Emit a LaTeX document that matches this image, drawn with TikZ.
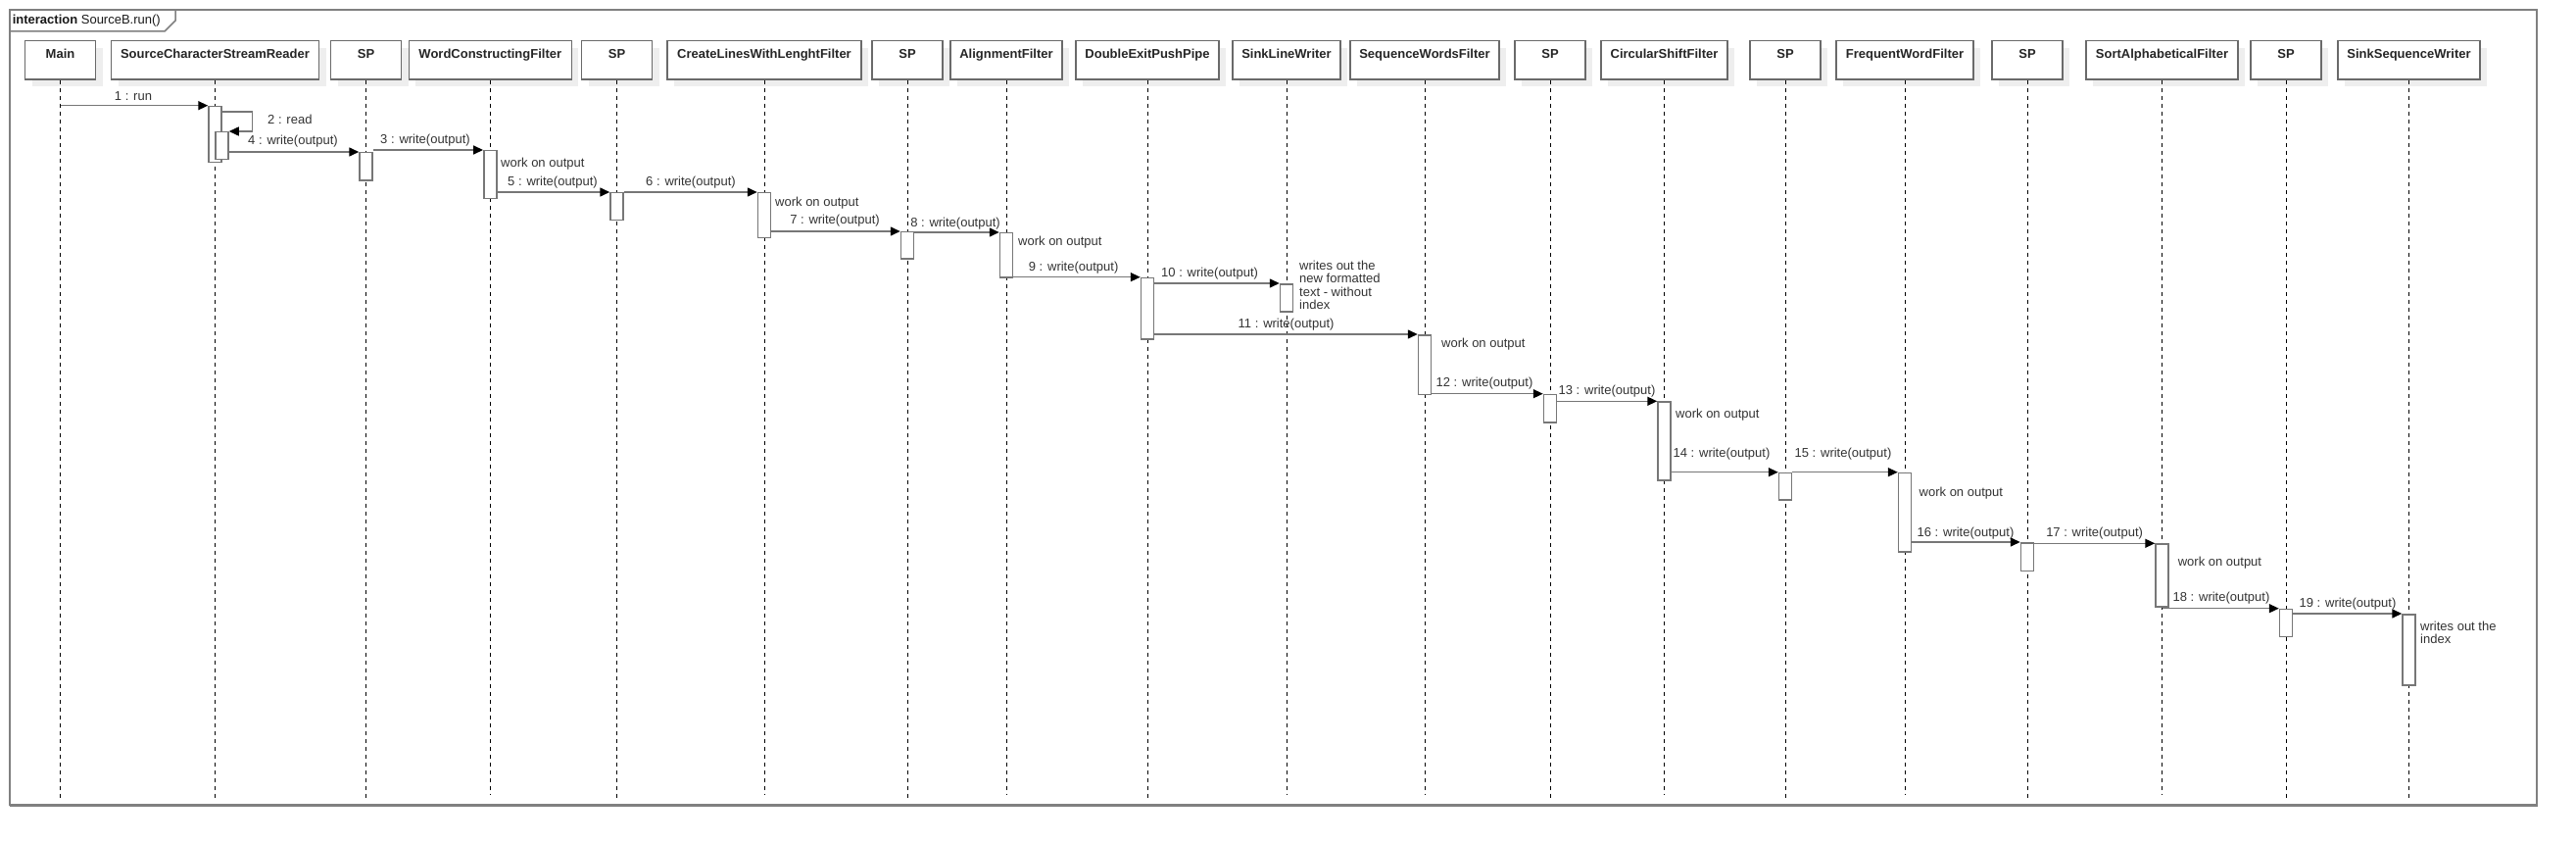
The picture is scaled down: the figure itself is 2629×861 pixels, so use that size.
\documentclass[tikz,border=0pt]{standalone}
\usepackage{fontspec}
\setmainfont{Liberation Sans}
\usetikzlibrary{arrows.meta,shadows,calc}
\definecolor{linegray}{HTML}{777777}
\definecolor{boxgray}{HTML}{6A6A6A}
\definecolor{framegray}{HTML}{808080}
\definecolor{txtgray}{HTML}{333333}
\definecolor{shadowgray}{HTML}{EEEEEE}
\newcommand\actv[4]{\node[act, minimum height={#4pt-#3pt}] (#1) at (#2.south |- 0,#3) {};}
\newcommand\hdrnode[4]{\node[hdr, minimum width=#3pt] (#1) at (#2,61.35) {#4};}
\begin{document}
\begin{tikzpicture}[x=1pt,y=-1pt,
  hdr/.style={draw=boxgray, line width=1.4pt, fill=white,
    font=\fontsize{13}{13}\selectfont\bfseries, text=black!85,
    inner xsep=0pt, inner ysep=0pt, text height=17.65pt, text depth=21.65pt,
    drop shadow={shadow xshift=7pt, shadow yshift=-7pt, fill=shadowgray, opacity=1}},
  life/.style={draw=black, line width=0.9pt, dash pattern=on 4pt off 4pt},
  act/.style={draw=linegray, line width=1.5pt, fill=white, minimum width=13pt,
    inner sep=0pt, anchor=north},
  msg/.style={draw=linegray, line width=1.5pt,
    -{Triangle[length=10pt,width=9pt,color=black]}},
  lbl/.style={font=\fontsize{13}{13}\selectfont, text=txtgray, inner sep=0pt},
  note/.style={lbl, anchor=west},
  mnote/.style={lbl, anchor=north west, align=left, font=\fontsize{13}{13.3}\selectfont},
  frame/.style={draw=framegray, line width=2pt},
]
\useasboundingbox (0,0) rectangle (2629,861);

% frame
\draw[frame] (10,10) rectangle (2589,821);
\draw[draw=framegray, line width=3pt] (10,821) -- (2590,821);
\draw[draw=framegray, line width=1.5pt] (10,32) -- (168,32) -- (179,21) -- (179,10);
\node[lbl, anchor=west, text=black!90] (title) at (12.6,21.5) {\textbf{interaction} SourceB.run()};

% headers
\hdrnode{hMain}{61.5}{72}{Main}
\hdrnode{hSCSR}{219.5}{212}{SourceCharacterStreamReader}
\hdrnode{hSPa}{373.5}{72}{SP}
\hdrnode{hWCF}{500.3}{166}{WordConstructingFilter}
\hdrnode{hSPb}{629.5}{72}{SP}
\hdrnode{hCLW}{780}{198}{CreateLinesWithLenghtFilter}
\hdrnode{hSPc}{926}{72}{SP}
\hdrnode{hAF}{1027}{114}{AlignmentFilter}
\hdrnode{hDEPP}{1171}{146}{DoubleExitPushPipe}
\hdrnode{hSLW}{1313}{110}{SinkLineWriter}
\hdrnode{hSWF}{1454}{152}{SequenceWordsFilter}
\hdrnode{hSPd}{1582}{72}{SP}
\hdrnode{hCSF}{1698.5}{129}{CircularShiftFilter}
\hdrnode{hSPe}{1822}{72}{SP}
\hdrnode{hFWF}{1944}{140}{FrequentWordFilter}
\hdrnode{hSPf}{2069}{72}{SP}
\hdrnode{hSAF}{2206.5}{155}{SortAlphabeticalFilter}
\hdrnode{hSPg}{2333}{72}{SP}
\hdrnode{hSSW}{2458.5}{145}{SinkSequenceWriter}

% lifelines
\foreach \h in {hMain,hSCSR,hSPa,hSPb,hSPc,hDEPP,hSPd,hSPe,hSPf,hSPg,hSSW}
  \draw[life] (\h.south) -- (\h.south |- 0,817);
\foreach \h in {hWCF,hCLW,hAF,hSLW,hSWF,hCSF,hFWF,hSAF}
  \draw[life] (\h.south) -- (\h.south |- 0,810);

% activations
\actv{aSCSR}{hSCSR}{107.7}{165}
\node[act, minimum height={27.7pt}] (aSCSRb) at ($(hSCSR.south |- 0,134)+(7,0)$) {};
\actv{aSPa}{hSPa}{155}{183.3}
\actv{aWCF}{hWCF}{153}{202}
\actv{aSPb}{hSPb}{196}{224}
\actv{aCLW}{hCLW}{196}{242}
\actv{aSPc}{hSPc}{236}{263}
\actv{aAF}{hAF}{237}{282}
\actv{aDEPP}{hDEPP}{282.7}{345}
\actv{aSLW}{hSLW}{289}{317}
\actv{aSWF}{hSWF}{341}{401.7}
\actv{aSPd}{hSPd}{401.7}{430}
\actv{aCSF}{hCSF}{409.3}{489.3}
\actv{aSPe}{hSPe}{481.7}{509.3}
\actv{aFWF}{hFWF}{481.7}{562}
\actv{aSPf}{hSPf}{553}{581.7}
\actv{aSAF}{hSAF}{554.3}{618}
\actv{aSPg}{hSPg}{620.7}{648.7}
\actv{aSSW}{hSSW}{626}{698}

% messages
\draw[msg] (aSCSR.north west -| hMain.south) -- (aSCSR.north west);
\node[lbl] (l1) at (136,98) {1 : run};
\draw[msg] ($(aSCSR.north east)+(0,6.3)$) -- ++(30.5,0) |- (aSCSRb.north east);
\node[note] (l2) at (273,122.3) {2 : read};
\draw[msg] (aWCF.north west -| aSPa.east) -- (aWCF.north west);
\node[lbl] (l3) at (434,143) {3 : write(output)};
\draw[msg] (aSPa.north west -| aSCSRb.east) -- (aSPa.north west);
\node[lbl] (l4) at (299,144.5) {4 : write(output)};
\draw[msg] (aSPb.north west -| aWCF.east) -- (aSPb.north west);
\node[lbl] (l5) at (564,186) {5 : write(output)};
\draw[msg] (aCLW.north west -| aSPb.east) -- (aCLW.north west);
\node[lbl] (l6) at (705,186) {6 : write(output)};
\draw[msg] (aSPc.north west -| aCLW.east) -- (aSPc.north west);
\node[lbl] (l7) at (852,225) {7 : write(output)};
\draw[msg] (aAF.north west -| aSPc.east) -- (aAF.north west);
\node[lbl] (l8) at (975,227.7) {8 : write(output)};
\draw[msg] (aDEPP.north west -| aAF.east) -- (aDEPP.north west);
\node[lbl] (l9) at (1095.6,272.7) {9 : write(output)};
\draw[msg] (aSLW.north west -| aDEPP.east) -- (aSLW.north west);
\node[lbl] (l10) at (1234.6,279) {10 : write(output)};
\draw[msg] (aSWF.north west -| aDEPP.east) -- (aSWF.north west);
\node[lbl] (l11) at (1312.6,331) {11 : write(output)};
\draw[msg] (aSPd.north west -| aSWF.east) -- (aSPd.north west);
\node[lbl] (l12) at (1515,391) {12 : write(output)};
\draw[msg] (aCSF.north west -| aSPd.east) -- (aCSF.north west);
\node[lbl] (l13) at (1640,399) {13 : write(output)};
\draw[msg] (aSPe.north west -| aCSF.east) -- (aSPe.north west);
\node[lbl] (l14) at (1757,463.3) {14 : write(output)};
\draw[msg] (aFWF.north west -| aSPe.east) -- (aFWF.north west);
\node[lbl] (l15) at (1881,463) {15 : write(output)};
\draw[msg] (aSPf.north west -| aFWF.east) -- (aSPf.north west);
\node[lbl] (l16) at (2006,544) {16 : write(output)};
\draw[msg] (aSAF.north west -| aSPf.east) -- (aSAF.north west);
\node[lbl] (l17) at (2137.6,544) {17 : write(output)};
\draw[msg] (aSPg.north west -| hSAF.south) -- (aSPg.north west);
\node[lbl] (l18) at (2267,610) {18 : write(output)};
\draw[msg] (aSSW.north west -| aSPg.east) -- (aSSW.north west);
\node[lbl] (l19) at (2396,615.7) {19 : write(output)};

% notes
\node[note] (wWCF) at (511,167.3) {work on output};
\node[note] (wCLW) at (791,207) {work on output};
\node[note] (wAF) at (1039,247) {work on output};
\node[note] (wSWF) at (1471,351) {work on output};
\node[note] (wCSF) at (1710,423.3) {work on output};
\node[note] (wFWF) at (1958.5,502.7) {work on output};
\node[note] (wSAF) at (2222.6,574.3) {work on output};
\node[mnote] (nSLW) at (1326,265.8) {writes out the\\new formatted\\text - without\\index};
\node[mnote] (nSSW) at (2470,633.4) {writes out the\\index};
\end{tikzpicture}
\end{document}
